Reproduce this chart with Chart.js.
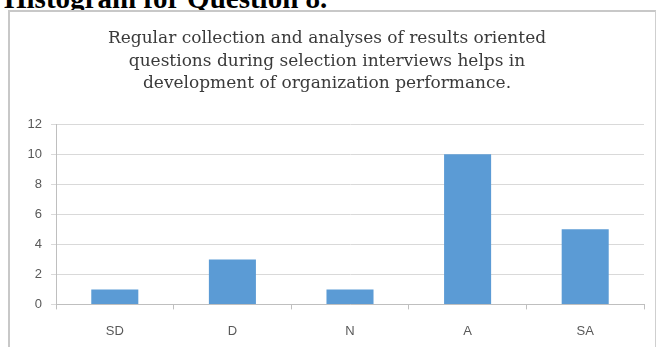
<!DOCTYPE html>
<html>
<head>
<meta charset="utf-8">
<script src="https://cdn.jsdelivr.net/npm/chart.js@4.4.1/dist/chart.umd.min.js"></script>
<style>
  html, body { margin: 0; padding: 0; background: #ffffff; }
  body { width: 660px; height: 347px; position: relative; overflow: hidden; }
  #heading {
    position: absolute; left: 4px; top: -16px;
    font: bold 29px "Liberation Serif", "Times New Roman", serif;
    line-height: 29px; color: #000; white-space: nowrap;
  }
  #frame {
    position: absolute; left: 8px; top: 10px; width: 645px; height: 360px;
    border: 1px solid #cfcfcf; border-top: 2px solid #c8c8c8; border-left: 2px solid #c8c8c8;
    background: #fff;
  }
  #wrap { position: absolute; left: 0; top: 0; width: 644px; height: 341px; }
</style>
</head>
<body>
<div id="heading">Histogram for Question 8.</div>
<div id="frame">
  <div id="wrap"><canvas id="chart"></canvas></div>
</div>
<script>
// Responses per answer option
const categories = ["SD", "D", "N", "A", "SA"];
const counts = [1, 3, 1, 10, 5];
const titleLines = [
  "Regular collection and analyses of results oriented",
  "questions during selection interviews helps in",
  "development of organization performance."
];
const yMax = 12;
const yStep = 2;

new Chart(document.getElementById("chart"), {
  type: "bar",
  data: {
    labels: categories,
    datasets: [{
      data: counts,
      backgroundColor: "#5b9bd5",
      borderWidth: 0,
      barPercentage: 0.4,
      categoryPercentage: 1.0
    }]
  },
  options: {
    responsive: true,
    maintainAspectRatio: false,
    animation: false,
    layout: { padding: { left: 0, right: 10, top: 0, bottom: 0 } },
    plugins: {
      legend: { display: false },
      tooltip: { enabled: false },
      title: {
        display: true,
        text: titleLines,
        color: "#3a3a3a",
        font: { family: "'DejaVu Serif', 'Liberation Serif', serif", size: 17, weight: "normal", lineHeight: 1.3 },
        padding: { top: 16, bottom: 30 }
      }
    },
    scales: {
      x: {
        grid: {
          display: true,
          drawOnChartArea: false,
          drawTicks: true,
          tickLength: 5,
          offset: true,
          color: "#bfbfbf"
        },
        border: { display: true, color: "#bfbfbf", width: 1 },
        ticks: {
          color: "#595959",
          padding: 14,
          font: { family: "'Liberation Sans', Arial, sans-serif", size: 13 }
        }
      },
      y: {
        min: 0,
        max: yMax,
        grid: {
          color: "#d9d9d9",
          tickLength: 5,
          drawTicks: true
        },
        border: { display: true, color: "#bfbfbf", width: 1 },
        ticks: {
          stepSize: yStep,
          color: "#595959",
          padding: 9,
          font: { family: "'Liberation Sans', Arial, sans-serif", size: 13 }
        },
        afterFit(scale) { scale.width = 46; }
      }
    }
  }
});
</script>
</body>
</html>
